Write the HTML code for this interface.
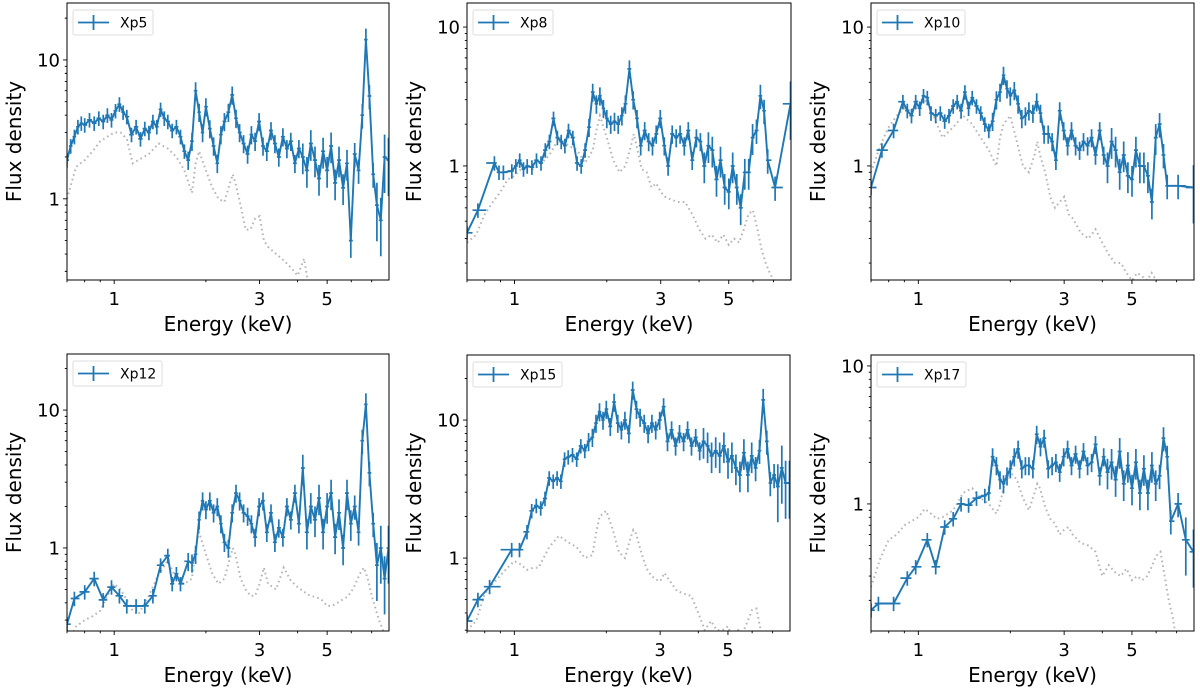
<!DOCTYPE html>
<html><head><meta charset="utf-8"><style>
html,body{margin:0;padding:0;background:#fff;}
svg{display:block;font-family:"DejaVu Sans","Liberation Sans",sans-serif;}
</style></head><body>
<svg id="fig" width="1200" height="691" viewBox="0 0 1200 691" xmlns="http://www.w3.org/2000/svg"></svg>
<script>
// Energy grid (keV) for the data points
const energies = [0.70,0.72,0.74,0.76,0.78,0.80,0.83,0.86,0.89,0.92,0.95,0.98,1.01,1.04,1.07,1.10,1.14,1.18,1.22,1.26,1.30,1.34,1.38,1.42,1.46,1.50,1.55,1.60,1.65,1.70,1.75,1.80,1.85,1.90,1.95,2.00,2.06,2.12,2.18,2.24,2.30,2.37,2.44,2.51,2.58,2.66,2.74,2.82,2.90,2.99,3.08,3.17,3.27,3.37,3.47,3.58,3.69,3.80,3.92,4.04,4.16,4.29,4.42,4.56,4.70,4.85,5.00,5.15,5.31,5.47,5.64,5.81,5.98,6.16,6.34,6.52,6.70,6.88,7.08,7.28,7.50,7.72,7.95];
// Relative flux error per grid point
const relErr = [0.12,0.12,0.12,0.12,0.12,0.12,0.12,0.12,0.12,0.12,0.12,0.12,0.12,0.12,0.12,0.12,0.12,0.12,0.12,0.12,0.12,0.12,0.12,0.12,0.12,0.12,0.12,0.12,0.12,0.12,0.15,0.15,0.15,0.15,0.15,0.15,0.15,0.15,0.15,0.15,0.15,0.15,0.15,0.15,0.15,0.15,0.15,0.15,0.15,0.15,0.15,0.15,0.15,0.15,0.15,0.15,0.15,0.15,0.15,0.15,0.25,0.25,0.25,0.25,0.25,0.25,0.25,0.25,0.25,0.25,0.25,0.25,0.25,0.2,0.2,0.2,0.2,0.2,0.2,0.45,0.45,0.45,0.45];
// Model energy grid
const modelE = [0.70,0.75,0.80,0.85,0.90,0.95,1.00,1.05,1.10,1.15,1.20,1.30,1.40,1.50,1.60,1.70,1.80,1.85,1.90,2.00,2.10,2.20,2.30,2.40,2.45,2.50,2.60,2.70,2.80,2.90,3.00,3.10,3.20,3.40,3.60,3.80,4.00,4.20,4.40,4.60,4.80,5.00,5.20,5.40,5.60,5.80,6.00,6.20,6.40,6.60,6.80,7.00,7.40,7.95];
const xTicks = [1,3,5];
const xTickLabels = ["1","3","5"];
const xMinor = [0.7,0.8,0.9,2,4,6,7,8];

const xp5Flux = [1.9,2.4,2.8,3.3,3.5,3.4,3.7,3.5,3.8,3.6, 4.0,3.7,4.3,4.8,4.2,3.9,2.9,3.3,2.7,3.2, 3.0,3.6,3.3,4.4,3.8,3.6,3.1,3.3,2.8,2.2, 1.9,2.6,6.0,4.2,3.0,4.6,3.2,2.4,1.8,2.9, 3.6,4.2,5.6,3.8,3.0,2.5,2.1,2.9,2.6,3.6, 2.4,2.2,3.1,2.5,2.0,2.8,2.3,2.6,1.8,2.3, 2.0,1.6,2.5,1.9,1.4,2.2,1.6,2.4,1.3,1.9, 1.2,1.8,0.5,2.1,1.6,4.0,14.0,5.5,1.5,0.9, 0.7,2.0,1.9];
const xp5Model = [1.0,1.7,1.9,2.2,2.6,2.8,3.0,3.0,2.7,1.8,1.9,2.1,2.5,2.3,2.0,1.6,1.1,1.8,2.2,1.6,1.2,1.0,0.95,1.3,1.5,1.3,0.9,0.6,0.6,0.72,0.75,0.5,0.45,0.40,0.36,0.32,0.28,0.37,0.2,0.05,0.05,0.05,0.05,0.05,0.05,0.05,0.05,0.05,0.05,0.05,0.05,0.05,0.05,0.05];

const xp8Flux = [0.33,null,null,0.48,null,null,null,1.05,0.9,0.9, null,0.92,1.0,1.1,0.95,1.0,0.98,1.1,1.05,1.3, 1.5,2.2,1.6,1.5,1.4,1.8,1.6,1.05,1.0,1.3, 1.9,3.4,2.8,3.2,2.6,2.2,2.0,2.1,2.0,2.3, 2.8,5.0,3.0,2.2,1.4,1.8,1.5,1.4,1.7,2.2, 1.4,1.0,1.7,1.6,1.7,1.4,1.8,1.1,1.6,1.5, 1.0,1.4,1.3,0.8,1.1,0.7,0.65,1.0,0.7,0.5, 0.9,0.9,1.6,1.8,3.2,2.5,1.1,null,0.7,null, null,null,2.8];
const xp8Model = [0.28,0.32,0.45,0.55,0.65,0.8,0.85,0.95,1.0,0.95,1.0,1.2,1.6,1.4,1.3,1.05,1.3,1.8,2.3,1.6,1.1,0.9,1.0,1.4,1.7,1.4,0.95,0.9,0.7,0.75,0.65,0.6,0.58,0.55,0.55,0.45,0.35,0.3,0.32,0.28,0.32,0.27,0.3,0.28,0.35,0.45,0.48,0.35,0.25,0.2,0.17,0.15,0.13,0.1];

const xp10Flux = [0.7,null,null,1.3,null,null,1.8,null,2.9,2.5, 2.3,2.9,2.6,3.2,3.1,2.4,2.3,2.4,2.1,2.3, 2.7,2.9,2.5,3.4,2.6,3.1,2.7,2.4,2.0,1.8, 2.1,3.0,3.4,4.5,3.6,3.2,3.5,2.8,2.2,2.3, 2.5,2.4,2.9,2.4,1.7,1.7,1.5,1.1,2.5,1.8, 1.4,1.8,1.4,1.3,1.5,1.4,1.6,1.2,1.8,1.2, 1.0,1.5,1.3,0.9,1.2,0.85,0.8,1.3,1.0,1.0, 0.85,0.55,1.6,2.0,1.2,0.72,null,null,0.72,null, null,null,0.7];
const xp10Model = [0.9,1.4,1.9,2.3,2.6,2.5,3.0,3.0,2.6,2.0,1.6,1.9,2.3,2.0,1.6,1.3,1.0,1.6,2.0,2.3,1.5,1.0,0.9,1.2,1.5,1.2,0.9,0.6,0.5,0.55,0.6,0.45,0.42,0.33,0.3,0.35,0.28,0.23,0.2,0.2,0.17,0.15,0.17,0.16,0.15,0.17,0.15,0.14,0.12,0.1,0.1,0.1,0.1,0.1];

const xp12Flux = [0.28,null,0.43,null,null,0.48,null,0.6,null,0.42, null,0.52,null,0.45,null,0.38,null,0.38,null,0.38, null,0.45,null,0.75,null,0.88,0.55,0.65,0.55,null, 0.8,0.78,0.9,1.6,2.2,1.9,2.2,1.8,2.0,1.5, 1.1,1.0,1.8,2.5,2.2,1.8,1.7,1.5,1.2,2.0, 2.2,1.3,1.8,1.1,1.4,1.2,2.0,1.6,2.5,1.5, 3.8,1.3,2.0,1.6,2.3,1.3,2.0,2.5,1.2,1.8, 1.0,2.5,1.5,2.0,1.3,6.0,11.0,3.5,1.5,0.75, 1.0,0.6,1.0];
const xp12Model = [0.2,0.27,0.3,0.32,0.35,0.45,0.55,0.5,0.42,0.35,0.33,0.45,0.65,0.8,0.6,0.55,0.6,1.0,1.3,0.9,0.65,0.55,0.6,0.85,1.0,0.9,0.6,0.5,0.45,0.45,0.55,0.72,0.55,0.5,0.72,0.58,0.52,0.48,0.45,0.44,0.42,0.38,0.38,0.4,0.42,0.44,0.48,0.55,0.65,0.72,0.6,0.45,0.3,0.2];

const xp15Flux = [0.35,null,null,0.5,null,null,0.62,null,null,null, null,1.15,null,1.15,null,1.55,2.2,2.4,2.3,2.7, 3.8,3.6,3.8,3.6,5.2,5.4,5.6,5.2,6.5,6.0, 7.0,7.5,9.5,11.5,10.0,12.0,9.0,13.5,9.5,8.5, 10.0,8.0,16.5,12.0,10.5,9.5,8.0,9.5,8.5,10.0, 12.5,7.0,8.5,6.5,8.0,7.0,8.5,6.5,7.5,6.0, 7.0,6.5,5.5,6.0,5.5,6.5,5.0,5.5,4.5,4.0, 5.8,4.0,5.5,4.5,6.0,14.0,7.0,3.5,4.0,3.3, 4.5,3.5,3.5];
const xp15Model = [0.3,0.35,0.55,0.65,0.75,0.85,0.95,0.9,0.82,0.85,0.85,1.2,1.45,1.3,1.2,1.0,1.05,1.5,2.0,2.2,1.6,1.1,1.0,1.4,1.6,1.5,1.1,0.85,0.75,0.7,0.68,0.78,0.7,0.58,0.55,0.53,0.4,0.3,0.35,0.3,0.3,0.32,0.25,0.3,0.29,0.35,0.42,0.43,0.3,0.25,0.2,0.2,0.2,0.2];

const xp17Flux = [0.17,null,0.19,null,null,null,0.19,null,null,0.29, null,0.35,null,null,0.55,null,0.35,null,0.68,null, 0.78,null,1.0,null,0.98,null,1.1,null,1.15,1.2, 2.2,1.9,1.5,1.4,1.6,1.8,2.2,2.5,1.8,1.9, 1.9,1.8,3.2,2.6,3.0,1.8,1.9,2.0,1.7,2.2, 2.5,1.9,2.3,1.8,2.4,1.9,2.0,2.7,1.6,2.2, 1.7,2.0,1.5,2.4,1.4,1.9,1.3,2.0,1.2,1.8, 1.2,1.9,1.4,1.6,3.0,2.2,0.75,null,1.0,null, 0.55,null,0.45];
const xp17Model = [0.25,0.4,0.55,0.6,0.7,0.75,0.8,0.92,0.85,0.78,0.8,0.9,1.2,1.3,1.1,1.0,0.85,1.0,1.3,1.7,1.5,1.1,0.9,1.2,1.4,1.3,0.95,0.78,0.72,0.6,0.65,0.68,0.6,0.52,0.5,0.45,0.3,0.36,0.32,0.3,0.34,0.28,0.3,0.28,0.3,0.35,0.42,0.45,0.3,0.2,0.15,0.1,0.1,0.1];

const panels = [
  {name:"Xp5", flux:xp5Flux, model:xp5Model, L:67, R:389, T:3, B:280, ymin:0.26, ymax:25.7, legW:80},
  {name:"Xp8", flux:xp8Flux, model:xp8Model, L:467, R:791, T:3, B:280, ymin:0.151, ymax:14.9, legW:80},
  {name:"Xp10", flux:xp10Flux, model:xp10Model, L:871, R:1194, T:3, B:280, ymin:0.151, ymax:14.9, legW:88},
  {name:"Xp12", flux:xp12Flux, model:xp12Model, L:67, R:389, T:354, B:631, ymin:0.25, ymax:25.5, legW:89},
  {name:"Xp15", flux:xp15Flux, model:xp15Model, L:467, R:790, T:355, B:631, ymin:0.296, ymax:29.6, legW:89},
  {name:"Xp17", flux:xp17Flux, model:xp17Model, L:871, R:1194, T:355, B:631, ymin:0.12, ymax:12.0, legW:89}
];
const XMIN = 0.70, XMAX = 7.98;
const NS = "http://www.w3.org/2000/svg";
const svg = document.getElementById("fig");
const BLUE = "#1f77b4";
function mk(tag, attrs, parent){
  const e = document.createElementNS(NS, tag);
  for (const k in attrs) e.setAttribute(k, attrs[k]);
  parent.appendChild(e);
  return e;
}
panels.forEach((p, pi) => {
  const lg = Math.log10;
  const sx = v => p.L + (lg(v) - lg(XMIN)) / (lg(XMAX) - lg(XMIN)) * (p.R - p.L);
  const sy = v => p.B - (lg(v) - lg(p.ymin)) / (lg(p.ymax) - lg(p.ymin)) * (p.B - p.T);
  const g = mk("g", {}, svg);
  
  
  const cid = "clip" + pi;
  const defs = mk("defs", {}, g);
  const cp = mk("clipPath", {id: cid}, defs);
  mk("rect", {x:p.L, y:p.T, width:p.R-p.L, height:p.B-p.T}, cp);

  const mg = mk("g", {"clip-path":"url(#"+cid+")"}, g);
  let md = "";
  modelE.forEach((e, i) => { md += (i ? "L" : "M") + sx(e).toFixed(1) + "," + sy(p.model[i]).toFixed(1); });
  const mpath = mk("path", {d: md, fill:"none", stroke:"#b5b5b5", "stroke-width":2, "stroke-dasharray":"1.6,3.2"}, mg);
  
  

  const dg = mk("g", {"clip-path":"url(#"+cid+")"}, g);
  const idx = [];
  p.flux.forEach((v, i) => { if (v !== null) idx.push(i); });
  let dd = "";
  idx.forEach((i, k) => { dd += (k ? "L" : "M") + sx(energies[i]).toFixed(1) + "," + sy(p.flux[i]).toFixed(1); });
  const dpath = mk("path", {d: dd, fill:"none", stroke:BLUE, "stroke-width":1.9, "stroke-linejoin":"round"}, dg);
  
  
  let eb = "";
  idx.forEach((i, k) => {
    const v = p.flux[i], e = energies[i];
    const x = sx(e), y = sy(v);
    const prev = k > 0 ? sx(energies[idx[k-1]]) : x - (sx(energies[idx[k+1]]) - x);
    const next = k < idx.length - 1 ? sx(energies[idx[k+1]]) : x + (x - prev);
    const x0 = (prev + x) / 2, x1 = (x + next) / 2;
    const r = relErr[i];
    eb += "M" + x.toFixed(1) + "," + sy(v * (1 + r)).toFixed(1) + "L" + x.toFixed(1) + "," + sy(v * (1 - r)).toFixed(1);
    eb += "M" + x0.toFixed(1) + "," + y.toFixed(1) + "L" + x1.toFixed(1) + "," + y.toFixed(1);
  });
  const epath = mk("path", {d: eb, fill:"none", stroke:BLUE, "stroke-width":1.7}, dg);
  
  

  const frame = mk("rect", {x:p.L, y:p.T, width:p.R-p.L, height:p.B-p.T, fill:"none", stroke:"#000", "stroke-width":1}, g);
  
  

  let tk = "";
  xTicks.forEach(t => { const x = sx(t); tk += "M"+x+","+p.B+"L"+x+","+(p.B+4); });
  xMinor.forEach(t => { if (t >= XMIN && t <= XMAX) { const x = sx(t); tk += "M"+x+","+p.B+"L"+x+","+(p.B+2.2); } });
  const decs = [0.1, 1, 10];
  decs.forEach(d => {
    for (let m = 1; m <= 9; m++) {
      const v = d * m;
      if (v < p.ymin || v > p.ymax) continue;
      const y = sy(v);
      tk += "M"+p.L+","+y+"L"+(p.L - (m === 1 ? 4 : 2.2))+","+y;
    }
  });
  mk("path", {d: tk, stroke:"#000", "stroke-width":0.9, fill:"none"}, g);
  xTicks.forEach((t, i) => {
    const tx = mk("text", {x: sx(t), y: p.B + 25, "text-anchor":"middle", "font-size":18, fill:"#000"}, g);
    tx.textContent = xTickLabels[i];
    
    
  });
  [1, 10].forEach(v => {
    if (v < p.ymin || v > p.ymax) return;
    const ty = mk("text", {x: p.L - 7, y: sy(v) + 6.5, "text-anchor":"end", "font-size":18, fill:"#000"}, g);
    ty.textContent = String(v);
    
    
  });
  const xl = mk("text", {x: (p.L + p.R) / 2, y: p.B + 51, "text-anchor":"middle", "font-size":20, fill:"#000"}, g);
  xl.textContent = "Energy (keV)";
  
  
  const cy = (p.T + p.B) / 2, cx = p.L - 46;
  const yl = mk("text", {x: cx, y: cy, "text-anchor":"middle", "font-size":20, fill:"#000", transform:"rotate(-90 "+cx+" "+cy+")"}, g);
  yl.textContent = "Flux density";
  
  

  const leg = mk("g", {}, g);
  
  
  const lx = p.L + 6, ly = p.T + 7;
  mk("rect", {x: lx, y: ly, width: p.legW, height: 25, rx: 2, fill:"#fff", stroke:"#dcdcdc", "stroke-width":1}, leg);
  mk("path", {d: "M"+(lx+5)+","+(ly+12.5)+"L"+(lx+36)+","+(ly+12.5)+"M"+(lx+20.5)+","+(ly+5)+"L"+(lx+20.5)+","+(ly+20), stroke:BLUE, "stroke-width":1.8, fill:"none"}, leg);
  const lt = mk("text", {x: lx + 47, y: ly + 17.5, "font-size":14, fill:"#000"}, leg);
  lt.textContent = p.name;
  
  
});
</script>
</body></html>
